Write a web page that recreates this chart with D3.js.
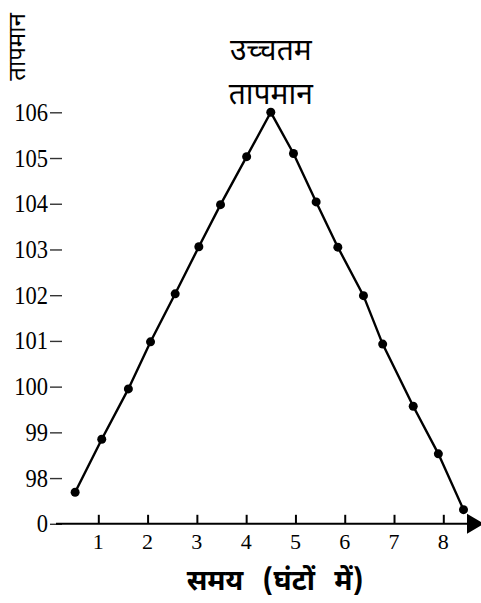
<!DOCTYPE html>
<html>
<head>
<meta charset="utf-8">
<script src="https://cdn.jsdelivr.net/npm/d3@7"></script>
<style>
  body { margin: 0; background: #fff; }
  svg { display: block; }
</style>
</head>
<body>
<div id="chart"></div>
<script>
// data
var hours = [0.53, 1.07, 1.61, 2.06, 2.56, 3.04, 3.48, 4.01, 4.50,
             4.96, 5.42, 5.86, 6.38, 6.77, 7.39, 7.90, 8.41]
var temps = [97.69, 98.85, 99.95, 100.98, 102.03, 103.06, 103.98, 105.03, 106.0,
             105.1, 104.04, 103.05, 101.99, 100.93, 99.57, 98.53, 97.31]
var xTicks = [1, 2, 3, 4, 5, 6, 7, 8]
var yTicks = [97, 98, 99, 100, 101, 102, 103, 104, 105, 106]
var yTickLabels = ['0', '98', '99', '100', '101', '102', '103', '104', '105', '106']
var peakLabel = ['उच्चतम', 'तापमान']
var yTitle = 'तापमान'
var xTitle = 'समय (घंटों में)'

var data = hours.map(function (h, i) { return { h: h, t: temps[i] } })

var width = 481, height = 603
var serif = '"Liberation Serif", "Times New Roman", serif'
var deva = '"Noto Sans Devanagari", "Noto Sans", sans-serif'

var svg = d3.select('#chart').append('svg')
    .attr('width', width)
    .attr('height', height)

var x = d3.scaleLinear().domain([1, 8]).range([98.3, 443.3])
var y = d3.scaleLinear().domain([97, 106]).range([523.8, 112.3])

// y ticks (no vertical axis line in the original)
var yAxis = svg.append('g')
    .attr('transform', 'translate(62,0)')
    .call(d3.axisLeft(y).tickValues(yTicks).tickSize(12).tickFormat(''))
yAxis.select('.domain').remove()
yAxis.selectAll('line').attr('stroke', '#333').attr('stroke-width', 1.4)

// tick labels: tall, slightly condensed serif
svg.selectAll('.ylab')
    .data(yTicks)
    .enter()
    .append('text')
    .attr('class', 'ylab')
    .attr('transform', function (d) { return 'translate(48,' + (y(d) + 8.5) + ') scale(0.9,1)' })
    .attr('text-anchor', 'end')
    .attr('font-family', serif)
    .style('font-family', serif)
    .style('font-size', '25px')
    .text(function (d, i) { return yTickLabels[i] })

// x axis line + arrow
var axisY = y(97)
svg.append('line')
    .attr('x1', 56).attr('x2', 470)
    .attr('y1', axisY).attr('y2', axisY)
    .attr('stroke', '#000').attr('stroke-width', 2)
svg.append('path')
    .attr('d', d3.line()([[467, axisY - 10], [484, axisY], [467, axisY + 10]]) + 'Z')
    .attr('fill', '#000')

var xAxis = svg.append('g')
    .attr('transform', 'translate(0,' + axisY + ')')
    .call(d3.axisTop(x).tickValues(xTicks).tickSize(9).tickFormat(''))
xAxis.select('.domain').remove()
xAxis.selectAll('line').attr('stroke', '#000').attr('stroke-width', 2)

svg.selectAll('.xlab')
    .data(xTicks)
    .enter()
    .append('text')
    .attr('class', 'xlab')
    .attr('x', function (d) { return x(d) })
    .attr('y', axisY + 25)
    .attr('text-anchor', 'middle')
    .style('font-family', serif)
    .style('font-size', '22px')
    .text(function (d) { return d })

// the line and its dots
svg.append('path')
    .datum(data)
    .attr('fill', 'none')
    .attr('stroke', '#000')
    .attr('stroke-width', 2.4)
    .attr('d', d3.line().x(function (d) { return x(d.h) }).y(function (d) { return y(d.t) }))

svg.selectAll('.dot')
    .data(data)
    .enter()
    .append('circle')
    .attr('class', 'dot')
    .attr('cx', function (d) { return x(d.h) })
    .attr('cy', function (d) { return y(d.t) })
    .attr('r', 4.5)
    .attr('fill', '#000')

// labels
var peak = data[8]
svg.selectAll('.peak')
    .data(peakLabel)
    .enter()
    .append('text')
    .attr('class', 'peak')
    .attr('x', x(peak.h))
    .attr('y', function (d, i) { return 60 + i * 44 })
    .attr('text-anchor', 'middle')
    .style('font-family', deva)
    .style('font-size', '30px')
    .text(function (d) { return d })

svg.append('text')
    .attr('transform', 'translate(25,47) rotate(-90)')
    .attr('text-anchor', 'middle')
    .style('font-family', deva)
    .style('font-size', '24px')
    .text(yTitle)

svg.append('text')
    .attr('x', 275)
    .attr('y', 590)
    .attr('text-anchor', 'middle')
    .style('font-family', deva)
    .style('font-size', '28px')
    .style('font-weight', 'bold')
    .style('word-spacing', '12px')
    .text(xTitle)
</script>
</body>
</html>
